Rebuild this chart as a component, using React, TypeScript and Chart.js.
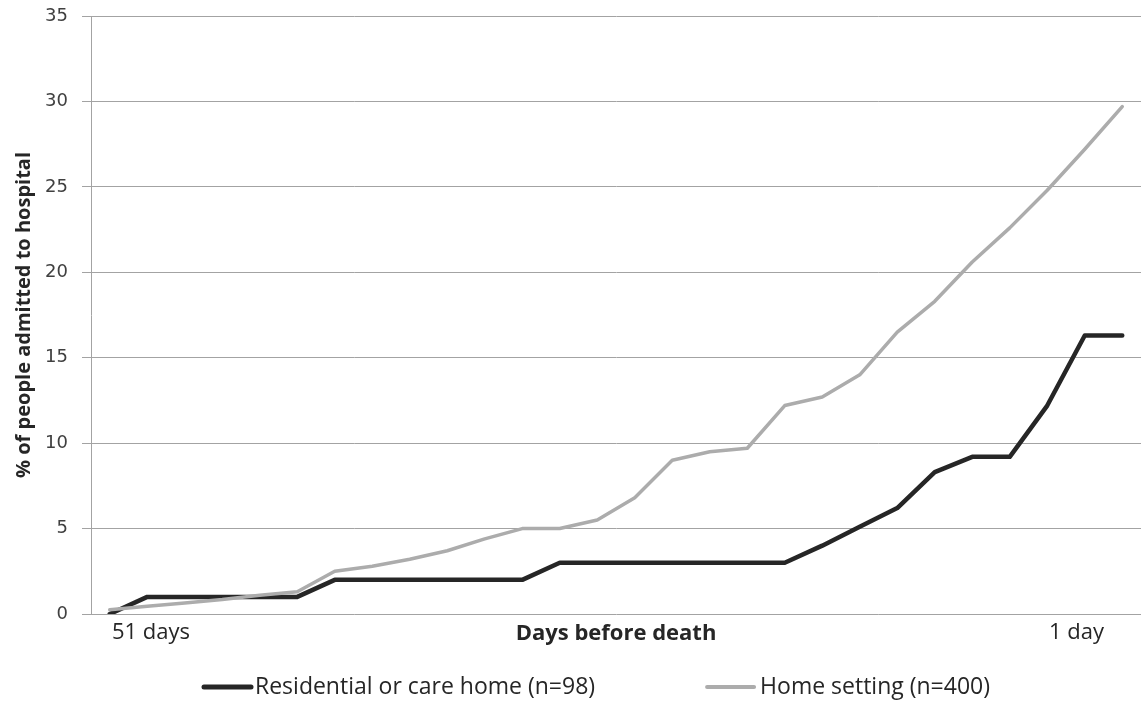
import React, { useEffect, useRef } from 'react';
import { Chart, registerables } from 'chart.js';

Chart.register(...registerables);

// 28 time points, from 51 days to 1 day before death
const categories = [
  'p1', 'p2', 'p3', 'p4', 'p5', 'p6', 'p7', 'p8', 'p9', 'p10', 'p11', 'p12', 'p13', 'p14',
  'p15', 'p16', 'p17', 'p18', 'p19', 'p20', 'p21', 'p22', 'p23', 'p24', 'p25', 'p26', 'p27', 'p28',
];
const xEndLabels = ['51 days', '1 day'];
const xTitle = 'Days before death';
const yTitle = '% of people admitted to hospital';

const residential = [0, 1, 1, 1, 1, 1, 2, 2, 2, 2, 2, 2, 3, 3, 3, 3, 3, 3, 3, 4, 5.1, 6.2, 8.3, 9.2, 9.2, 12.2, 16.3, 16.3];
const homeSetting = [0.25, 0.45, 0.65, 0.85, 1.1, 1.3, 2.5, 2.8, 3.2, 3.7, 4.4, 5.0, 5.0, 5.5, 6.8, 9.0, 9.5, 9.7, 12.2, 12.7, 14.0, 16.5, 18.3, 20.6, 22.6, 24.8, 27.2, 29.7];

const seriesNames = ['Residential or care home (n=98)', 'Home setting (n=400)'];
const seriesColors = ['#262626', '#acacac'];

const SANS = '"Open Sans", sans-serif';

const textPlugin = {
  id: 'extraText',
  afterDraw(chart: any) {
    const ctx = chart.ctx as CanvasRenderingContext2D;
    const xs = chart.scales.x;
    const area = chart.chartArea;
    ctx.save();
    ctx.fillStyle = '#262626';
    ctx.textBaseline = 'middle';
    ctx.textAlign = 'center';
    ctx.font = '22px ' + SANS;
    const ly = area.bottom + 19;
    ctx.fillText(xEndLabels[0], xs.getPixelForValue(1.1), ly);
    ctx.fillText(xEndLabels[1], xs.getPixelForValue(25.78), ly);

    // legend
    const legY = 687;
    const sample = 50;
    ctx.font = '23px ' + SANS;
    ctx.textAlign = 'left';
    const w0 = ctx.measureText(seriesNames[0]).width;
    const w1 = ctx.measureText(seriesNames[1]).width;
    const gap = 110;
    const total = sample + 3 + w0 + gap + sample + 5 + w1;
    let x = 596 - total / 2;
    const widths = [5, 4];
    [0, 1].forEach((i) => {
      ctx.strokeStyle = seriesColors[i];
      ctx.lineWidth = widths[i];
      ctx.lineCap = 'round';
      ctx.beginPath();
      ctx.moveTo(x + 2, legY);
      ctx.lineTo(x + sample - 1, legY);
      ctx.stroke();
      ctx.fillStyle = '#262626';
      const tx = x + sample + (i === 0 ? 3 : 5);
      ctx.fillText(seriesNames[i], tx, legY);
      x = tx + (i === 0 ? w0 + gap : 0);
    });
    ctx.restore();
  },
};

export default function App() {
  const ref = useRef<HTMLCanvasElement>(null);
  useEffect(() => {
    if (!ref.current) return;
    const chart = new Chart(ref.current, {
      type: 'line',
      data: {
        labels: categories,
        datasets: [
          {
            label: seriesNames[0],
            data: residential,
            borderColor: seriesColors[0],
            backgroundColor: seriesColors[0],
            borderWidth: 4.5,
            pointRadius: 0,
            tension: 0,
            borderCapStyle: 'round',
            borderJoinStyle: 'round',
            order: 2,
          },
          {
            label: seriesNames[1],
            data: homeSetting,
            borderColor: seriesColors[1],
            backgroundColor: seriesColors[1],
            borderWidth: 3.5,
            pointRadius: 0,
            tension: 0,
            borderCapStyle: 'round',
            borderJoinStyle: 'round',
            order: 1,
          },
        ],
      },
      options: {
        animation: false,
        responsive: false,
        maintainAspectRatio: false,
        layout: { padding: { top: 16, right: 1, bottom: 50, left: 0 } },
        plugins: {
          legend: { display: false },
          tooltip: { enabled: false },
          title: { display: false },
        },
        scales: {
          x: {
            type: 'category',
            offset: true,
            grid: { display: false, drawTicks: false },
            border: { display: false },
            ticks: { display: false },
            title: {
              display: true,
              text: xTitle,
              color: '#262626',
              font: { family: SANS, size: 22, weight: 'bold' },
              padding: { top: 0, bottom: 7 },
            },
            afterFit: (s: any) => {
              s.height = 40;
            },
          },
          y: {
            min: 0,
            max: 35,
            ticks: {
              stepSize: 5,
              color: '#404040',
              padding: 14,
              font: { family: '"DejaVu Sans", sans-serif', size: 18 },
            },
            grid: { color: '#a3a3a3', lineWidth: 1, drawTicks: true, tickLength: 9, tickColor: '#a3a3a3' },
            border: { display: true, color: '#a3a3a3', width: 1 },
            title: {
              display: true,
              text: yTitle,
              color: '#262626',
              font: { family: SANS, size: 20, weight: 'bold' },
              padding: { top: 12, bottom: 0 },
            },
            afterFit: (s: any) => {
              s.width = 91;
              s.paddingTop = 0;
              s.paddingBottom = 0;
            },
          },
        },
      },
      plugins: [textPlugin],
    });
    return () => chart.destroy();
  }, []);
  return (
    <div style={{ position: 'fixed', left: 0, top: 0, width: 1142, height: 704, background: '#fff' }}>
      <canvas ref={ref} width={1142} height={704} style={{ width: 1142, height: 704 }} />
    </div>
  );
}
